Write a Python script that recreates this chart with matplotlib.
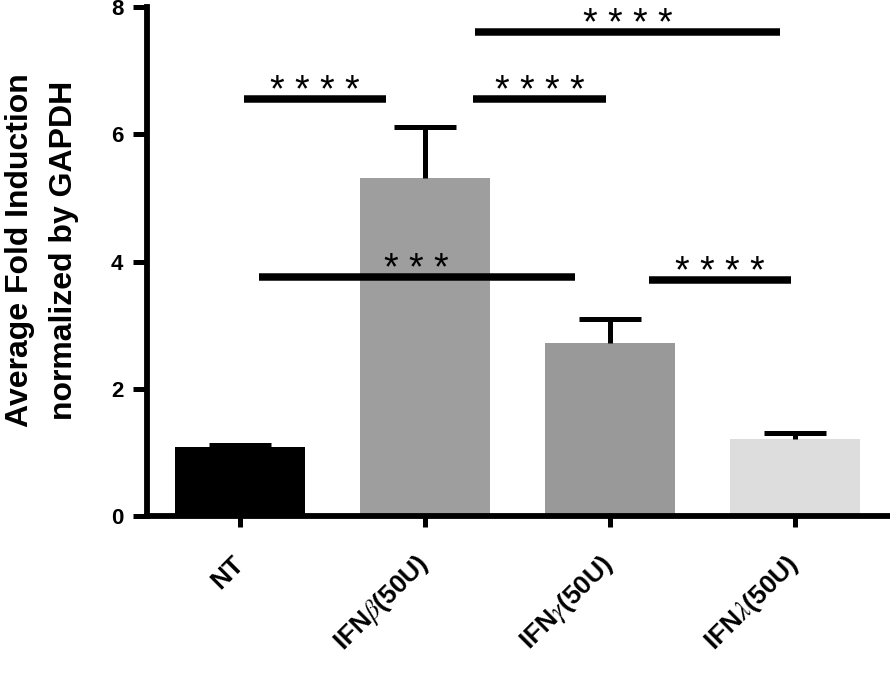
"""
Fold induction bar chart (NT vs IFN treatments) with significance bars.
"""
import matplotlib
matplotlib.use("Agg")
import matplotlib.pyplot as plt
from matplotlib.transforms import ScaledTranslation

plt.rcParams["font.family"] = ["Liberation Sans", "DejaVu Sans"]
plt.rcParams["mathtext.fontset"] = "stix"

# ── Data ───────────────────────────────────────────────────────────────────
categories = ["NT", "IFN$\\beta$(50U)", "IFN$\\gamma$(50U)", "IFN$\\lambda$(50U)"]
means      = [1.09, 5.31, 2.72, 1.21]
errors     = [0.03, 0.81, 0.38, 0.10]
colors     = ["#000000", "#9E9E9E", "#999999", "#DDDDDD"]

# significance comparisons: start, end (category units), height, label
sig_x1     = [0.02, 1.26, 1.27, 0.10, 2.21]
sig_x2     = [0.79, 1.98, 2.92, 1.81, 2.98]
sig_y      = [6.55, 6.55, 7.60, 3.76, 3.71]
sig_labels = ["* * * *", "* * * *", "* * * *", "* * *", "* * * *"]

y_ticks    = [0, 2, 4, 6, 8]

# ── Figure ─────────────────────────────────────────────────────────────────
fig = plt.figure(figsize=(8.9, 6.89), dpi=100)
ax = fig.add_axes([0.1652, 0.2511, 0.8348, 0.7387])

x = list(range(len(categories)))
ax.bar(x, means, width=0.70, color=colors, edgecolor="none", zorder=2)

# upper-only error bars (hide the cap sitting on the bar top)
_, caps, _ = ax.errorbar(
    x, means, yerr=[[0] * len(errors), errors], fmt="none",
    ecolor="black", elinewidth=3.6, capsize=22, capthick=3.6, zorder=3,
)
caps[0].set_visible(False)

for x1, x2, y, lab in zip(sig_x1, sig_x2, sig_y, sig_labels):
    ax.plot([x1, x2], [y, y], color="black", lw=5.4,
            solid_capstyle="butt", zorder=3)
    ax.annotate(lab, xy=((x1 + x2) / 2, y), xytext=(0, -2),
                textcoords="offset points", ha="center", va="baseline",
                fontsize=27, color="black", zorder=4)

# ── Axes styling ───────────────────────────────────────────────────────────
ax.set_xlim(-0.503, 3.514)
ax.set_ylim(0, 8)
ax.set_yticks(y_ticks)
ax.set_xticks(x)
ax.set_xticklabels(categories, rotation=45, ha="right", va="center",
                   rotation_mode="anchor", fontsize=19, fontweight="bold")

shift = ScaledTranslation(0, -3 / 72, fig.dpi_scale_trans)
for lab in ax.get_yticklabels():
    lab.set_fontweight("bold")
    lab.set_transform(lab.get_transform() + shift)

for side in ["top", "right"]:
    ax.spines[side].set_visible(False)
for side in ["left", "bottom"]:
    ax.spines[side].set_linewidth(4.2)
ax.spines["left"].set_bounds(0, 8)

ax.tick_params(axis="y", length=10, width=3.6, pad=7, labelsize=16)
ax.tick_params(axis="x", length=8, width=3.6, pad=24)

fig.text(0.047, 0.637, "Average Fold Induction\nnormalized by GAPDH",
         rotation=90, ha="center", va="center", multialignment="center",
         fontsize=23, fontweight="bold", linespacing=1.6)

fig.savefig("out.png", dpi=100, facecolor="white")
plt.close(fig)
